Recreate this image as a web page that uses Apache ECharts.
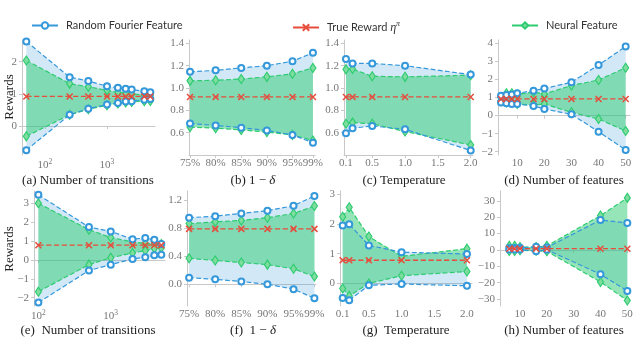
<!DOCTYPE html>
<html>
<head>
<meta charset="utf-8">
<script src="https://cdn.jsdelivr.net/npm/echarts@6/dist/echarts.min.js"></script>
<style>
  html, body { margin: 0; padding: 0; background: #fff; }
  #main { width: 640px; height: 338px; }
</style>
</head>
<body>
<div id="main"></div>
<script>
// (a) number of transitions
const xA = [50, 250, 500, 1000, 1500, 2000, 2500, 4000, 5000];
const rffHiA = [2.63, 1.52, 1.40, 1.24, 1.19, 1.16, 1.14, 1.08, 1.05];
const rffLoA = [-0.75, 0.35, 0.54, 0.67, 0.72, 0.76, 0.77, 0.82, 0.84];
const nfHiA = [2.04, 1.32, 1.22, 1.11, 1.05, 1.02, 1.00, 0.97, 0.96];
const nfLoA = [-0.32, 0.35, 0.52, 0.65, 0.70, 0.73, 0.75, 0.77, 0.78];
const trueA = [0.92, 0.92, 0.92, 0.92, 0.92, 0.92, 0.92, 0.92, 0.92];

// (b) 1 - delta
const xB = [75, 80, 85, 90, 95, 99];
const rffHiB = [1.145, 1.158, 1.18, 1.20, 1.24, 1.315];
const rffLoB = [0.682, 0.664, 0.645, 0.62, 0.58, 0.51];
const nfHiB = [1.064, 1.07, 1.08, 1.10, 1.127, 1.18];
const nfLoB = [0.65, 0.64, 0.625, 0.605, 0.58, 0.53];
const trueB = [0.92, 0.92, 0.92, 0.92, 0.92, 0.92];

// (c) temperature
const xC = [0.1, 0.2, 0.5, 1.0, 2.0];
const rffHiC = [1.26, 1.22, 1.22, 1.20, 1.12];
const rffLoC = [0.594, 0.64, 0.66, 0.63, 0.44];
const nfHiC = [1.167, 1.17, 1.105, 1.10, 1.115];
const nfLoC = [0.68, 0.69, 0.68, 0.61, 0.49];
const trueC = [0.92, 0.92, 0.92, 0.92, 0.92];

// (d) number of features
const xD = [4, 6, 8, 10, 16, 20, 30, 40, 50];
const rffHiD = [1.1, 1.14, 1.17, 1.23, 1.38, 1.5, 1.84, 2.8, 3.82];
const rffLoD = [0.73, 0.68, 0.64, 0.64, 0.53, 0.36, 0.07, -0.89, -1.9];
const nfHiD = [1.0, 1.23, 1.23, 1.17, 1.3, 1.2, 1.66, 1.97, 2.65];
const nfLoD = [0.8, 0.72, 0.72, 0.64, 0.59, 0.64, 0.18, -0.19, -0.85];
const trueD = [0.92, 0.92, 0.92, 0.92, 0.92, 0.92, 0.92, 0.92, 0.92];

// (e) number of transitions
const xE = [100, 500, 1000, 2000, 3000, 4000, 5000];
const rffHiE = [3.45, 1.74, 1.51, 1.10, 1.16, 1.07, 0.84];
const rffLoE = [-2.26, -0.56, -0.25, 0.05, 0.14, 0.25, 0.28];
const nfHiE = [3.0, 1.6, 1.19, 0.95, 0.88, 0.86, 0.84];
const nfLoE = [-1.68, -0.25, 0.11, 0.37, 0.49, 0.6, 0.63];
const trueE = [0.78, 0.78, 0.78, 0.78, 0.78, 0.78, 0.78];

// (f) 1 - delta
const xF = [75, 80, 85, 90, 95, 99];
const rffHiF = [0.95, 0.97, 1.01, 1.05, 1.12, 1.26];
const rffLoF = [0.094, 0.07, 0.04, 0.0, -0.07, -0.20];
const nfHiF = [0.866, 0.89, 0.91, 0.95, 1.01, 1.115];
const nfLoF = [0.37, 0.34, 0.31, 0.28, 0.22, 0.11];
const trueF = [0.79, 0.79, 0.79, 0.79, 0.79, 0.79];

// (g) temperature
const xG = [0.1, 0.2, 0.5, 1.0, 2.0];
const rffHiG = [1.95, 1.99, 1.28, 1.05, 0.99];
const rffLoG = [-0.49, -0.57, -0.06, -0.02, -0.08];
const nfHiG = [2.24, 2.56, 1.58, 0.91, 1.17];
const nfLoG = [-0.17, -0.42, 0.0, 0.26, 0.40];
const trueG = [0.78, 0.78, 0.78, 0.78, 0.78];

// (h) number of features
const xH = [6, 8, 10, 16, 20, 40, 50];
const rffHiH = [1.2, 1.2, 1.3, 2.0, 1.5, 18.3, 16.5];
const rffLoH = [0.3, 0.3, 0.3, -0.8, 0.1, -14.8, -25];
const nfHiH = [2.5, 2.5, 1.8, 1.8, 2.5, 21, 31.8];
const nfLoH = [-0.6, -0.6, -0.2, -0.5, -0.8, -19.5, -30.8];
const trueH = [0.78, 0.78, 0.78, 0.78, 0.78, 0.78, 0.78];

// tick labels
const ticksXA = [100, 1000];
const ticksXE = [100, 1000];
const ticksPct = [75, 80, 85, 90, 95, 99];
const ticksTemp = [0.1, 0.5, 1.0, 1.5, 2.0];
const ticksFeat = [10, 20, 30, 40, 50];
const ticksYA = [0, 1, 2];
const ticksYB = [0.6, 0.8, 1.0, 1.2, 1.4];
const ticksYD = [-2, -1, 0, 1, 2, 3, 4];
const ticksYE = [-2, -1, 0, 1, 2, 3];
const ticksYF = [0.0, 0.4, 0.8, 1.2];
const ticksYG = [0, 1, 2, 3];
const ticksYH = [-30, -20, -10, 0, 10, 20, 30];

const BLUE = '#3498db', GREEN = '#2ecc71', RED = '#e74c3c';
const BLUE_FILL = 'rgba(52,152,219,0.22)', GREEN_FILL = 'rgba(46,204,113,0.5)';
const SERIF = '"Liberation Serif", "DejaVu Serif", serif';
const SANS = 'Lato, "DejaVu Sans", sans-serif';

const minus = s => String(s).replace('-', '\u2212');
const pow10 = v => '10{s|' + Math.round(Math.log10(v)) + '}';

const panels = [
  { l: 22, t: 40, w: 133, h: 115, xType: 'log', xMin: 42.6, xMax: 5945, xTicks: ticksXA, xFmt: pow10,
    yMin: -0.9, yMax: 2.675, yTicks: ticksYA, yFmt: v => minus(v),
    x: xA, rHi: rffHiA, rLo: rffLoA, nHi: nfHiA, nLo: nfLoA, tr: trueA },
  { l: 189, t: 40, w: 126, h: 115, xType: 'value', xMin: 74.8, xMax: 99.4, xTicks: ticksPct, xFmt: v => v + '%',
    yMin: 0.40, yMax: 1.43, yTicks: ticksYB, yFmt: v => v.toFixed(1),
    x: xB, rHi: rffHiB, rLo: rffLoB, nHi: nfHiB, nLo: nfLoB, tr: trueB },
  { l: 344, t: 40, w: 129, h: 115, xType: 'value', xMin: 0.07, xMax: 2.035, xTicks: ticksTemp, xFmt: v => v.toFixed(1),
    yMin: 0.40, yMax: 1.43, yTicks: ticksYB, yFmt: v => v.toFixed(1),
    x: xC, rHi: rffHiC, rLo: rffLoC, nHi: nfHiC, nLo: nfLoC, tr: trueC },
  { l: 498, t: 40, w: 132, h: 115, xType: 'value', xMin: 2.9, xMax: 51.6, xTicks: ticksFeat, xFmt: v => v,
    yMin: -2.18, yMax: 4.18, yTicks: ticksYD, yFmt: v => minus(v),
    x: xD, rHi: rffHiD, rLo: rffLoD, nHi: nfHiD, nLo: nfLoD, tr: trueD },
  { l: 34, t: 191, w: 131, h: 115, xType: 'log', xMin: 87, xMax: 5620, xTicks: ticksXE, xFmt: pow10,
    yMin: -2.44, yMax: 3.65, yTicks: ticksYE, yFmt: v => minus(v),
    x: xE, rHi: rffHiE, rLo: rffLoE, nHi: nfHiE, nLo: nfLoE, tr: trueE },
  { l: 187, t: 191, w: 129, h: 115, xType: 'value', xMin: 74.6, xMax: 99.3, xTicks: ticksPct, xFmt: v => v + '%',
    yMin: -0.31, yMax: 1.33, yTicks: ticksYF, yFmt: v => v.toFixed(1),
    x: xF, rHi: rffHiF, rLo: rffLoF, nHi: nfHiF, nLo: nfLoF, tr: trueF },
  { l: 340, t: 191, w: 132, h: 115, xType: 'value', xMin: 0.059, xMax: 2.077, xTicks: ticksTemp, xFmt: v => v.toFixed(1),
    yMin: -0.76, yMax: 3.11, yTicks: ticksYG, yFmt: v => minus(v),
    x: xG, rHi: rffHiG, rLo: rffLoG, nHi: nfHiG, nLo: nfLoG, tr: trueG },
  { l: 500, t: 191, w: 130, h: 115, xType: 'value', xMin: 2.54, xMax: 51, xTicks: ticksFeat, xFmt: v => v,
    yMin: -34.2, yMax: 36, yTicks: ticksYH, yFmt: v => minus(v),
    x: xH, rHi: rffHiH, rLo: rffLoH, nHi: nfHiH, nLo: nfLoH, tr: trueH }
];

const captions = [
  { x: 88, y: 181, text: '(a) Number of transitions' },
  { x: 253, y: 181, text: '(b) 1 \u2212 {i|\u03b4}' },
  { x: 404, y: 181, text: '(c) Temperature' },
  { x: 564, y: 181, text: '(d) Number of features' },
  { x: 88, y: 331, text: '(e)  Number of transitions' },
  { x: 253, y: 331, text: '(f)  1 \u2212 {i|\u03b4}' },
  { x: 406, y: 331, text: '(g)  Temperature' },
  { x: 564, y: 331, text: '(h) Number of features' }
];

const tickColor = '#c8c8c8';
const labelRich = { s: { fontSize: 7.5, fontFamily: SERIF, color: '#777', padding: [0, 0, 6, 0] } };

function band(i, xs, lo, hi, fill, z) {
  return {
    type: 'custom', xAxisIndex: i, yAxisIndex: i, z: z, silent: true,
    data: xs.map((x, j) => [x, lo[j], hi[j]]),
    encode: { x: 0, y: [1, 2] },
    renderItem: function (params, api) {
      if (params.dataIndex !== 0) return;
      const pts = [];
      for (let j = 0; j < xs.length; j++) pts.push(api.coord([xs[j], hi[j]]));
      for (let j = xs.length - 1; j >= 0; j--) pts.push(api.coord([xs[j], lo[j]]));
      return { type: 'polygon', shape: { points: pts }, style: { fill: fill, stroke: null } };
    }
  };
}

const styles = {
  rff: { name: 'Random Fourier Feature', symbol: 'emptyCircle', symbolSize: 6,
         itemStyle: { color: BLUE, borderWidth: 1.4 }, lineStyle: { color: BLUE, type: 'dashed', width: 1.2 } },
  nf: { name: 'Neural Feature', symbol: 'path://M0,-10L6,0L0,10L-6,0Z', symbolSize: [6, 9],
        itemStyle: { color: '#7fdda0', borderColor: GREEN, borderWidth: 1.2 }, lineStyle: { color: GREEN, type: 'dashed', width: 1.2 } },
  tr: { name: 'True Reward', symbol: 'path://M-5,-5L5,5M5,-5L-5,5', symbolSize: 6,
        itemStyle: { color: RED, borderColor: RED, borderWidth: 1.5 }, lineStyle: { color: RED, type: 'dashed', width: 1.3 } }
};

function line(i, xs, ys, st, z) {
  return Object.assign({
    type: 'line', xAxisIndex: i, yAxisIndex: i, z: z, silent: true,
    data: xs.map((x, j) => [x, ys[j]])
  }, JSON.parse(JSON.stringify(st)), { symbol: st.symbol });
}

const grid = [], xAxis = [], yAxis = [], series = [];
panels.forEach((p, i) => {
  grid.push({ left: p.l, top: p.t, width: p.w, height: p.h, outerBoundsMode: 'none' });
  xAxis.push({
    gridIndex: i, type: p.xType, logBase: 10, min: p.xMin, max: p.xMax,
    axisLine: { lineStyle: { color: tickColor } },
    axisTick: { customValues: p.xTicks, length: 3, lineStyle: { color: tickColor } },
    axisLabel: { customValues: p.xTicks, formatter: p.xFmt, color: '#777', fontFamily: SERIF, fontSize: 11, margin: 3, rich: labelRich },
    splitLine: { show: false }
  });
  yAxis.push({
    gridIndex: i, type: 'value', min: p.yMin, max: p.yMax,
    axisLine: { show: true, lineStyle: { color: tickColor } },
    axisTick: { show: true, customValues: p.yTicks, length: 3, lineStyle: { color: tickColor } },
    axisLabel: { customValues: p.yTicks, formatter: p.yFmt, color: '#777', fontFamily: SERIF, fontSize: 11, margin: 5 },
    splitLine: { show: false }
  });
  series.push(band(i, p.x, p.rLo, p.rHi, BLUE_FILL, 1));
  series.push(band(i, p.x, p.nLo, p.nHi, GREEN_FILL, 2));
  series.push(line(i, p.x, p.nHi, styles.nf, 3));
  series.push(line(i, p.x, p.nLo, styles.nf, 3));
  series.push(line(i, p.x, p.rHi, styles.rff, 4));
  series.push(line(i, p.x, p.rLo, styles.rff, 4));
  series.push(line(i, p.x, p.tr, styles.tr, 5));
});

const legendBase = {
  top: 15, itemWidth: 26, itemHeight: 8, itemGap: 0,
  lineStyle: { type: 'solid', width: 2 },
  textStyle: { fontFamily: SANS, fontSize: 11, color: '#333', padding: [0, 0, 0, 3],
    rich: { e: { fontFamily: SERIF, fontStyle: 'italic', fontSize: 12, color: '#333' },
            p: { fontFamily: SERIF, fontStyle: 'italic', fontSize: 8, color: '#333', padding: [0, 0, 7, 0] } } },
  selectedMode: false
};

const graphic = captions.map(c => ({
  type: 'text', x: c.x, y: c.y,
  style: { text: c.text, fontFamily: SERIF, fontSize: 13, fill: '#222', align: 'center', verticalAlign: 'middle',
    rich: { i: { fontFamily: SERIF, fontStyle: 'italic', fontSize: 13, fill: '#222' } } }
}));
graphic.push({ type: 'text', x: 10, y: 97, rotation: Math.PI / 2,
  style: { text: 'Rewards', fontFamily: SERIF, fontSize: 13, fill: '#222', align: 'center', verticalAlign: 'middle' } });
graphic.push({ type: 'text', x: 10, y: 249, rotation: Math.PI / 2,
  style: { text: 'Rewards', fontFamily: SERIF, fontSize: 13, fill: '#222', align: 'center', verticalAlign: 'middle' } });

const chart = echarts.init(document.getElementById('main'), null, { renderer: 'canvas' });
chart.setOption({
  animation: false,
  backgroundColor: '#fff',
  legend: [
    Object.assign({}, legendBase, { left: 26, data: ['Random Fourier Feature'] }),
    Object.assign({}, legendBase, { left: 287, data: ['True Reward'],
      formatter: () => 'True Reward {e|\u03b7}{p|\u03c0}' }),
    Object.assign({}, legendBase, { left: 506, data: ['Neural Feature'] })
  ],
  grid: grid,
  xAxis: xAxis,
  yAxis: yAxis,
  series: series,
  graphic: graphic
});
</script>
</body>
</html>
